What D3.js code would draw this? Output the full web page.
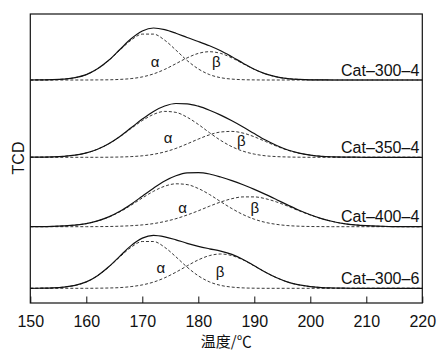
<!DOCTYPE html>
<html>
<head>
<meta charset="utf-8">
<script src="https://cdn.jsdelivr.net/npm/d3@7"></script>
<style>
    body { margin: 0; background: #fff; }
    svg { display: block; }
    text { font-family: "Liberation Sans", Arial, sans-serif; fill: #111; }
</style>
</head>
<body>
<div id="tpr"></div>
<script>
"use strict";

/***** data *****/

let temps = [150, 152, 154, 156, 158, 160, 162, 164, 166, 168, 170, 172, 174, 176, 178, 180, 182, 184,
             186, 188, 190, 192, 194, 196, 198, 200, 202, 204, 206, 208, 210, 212, 214, 216, 218, 220];

let samples = ["Cat–300–4", "Cat–350–4", "Cat–400–4", "Cat–300–6"];

// stacking offset of each trace (TCD signal units)
let offsets = [223, 145.7, 76.3, 14.7];

let total3004 = [0, 0.1, 0.3, 0.9, 2.3, 5.4, 11.2, 19.7, 30.5, 41.2, 49.0, 52.0, 50.4, 46.8, 42.5, 38.5, 34.2, 29.2,
                 23.2, 16.8, 10.7, 6.1, 3.1, 1.4, 0.6, 0.2, 0.1, 0, 0, 0, 0, 0, 0, 0, 0, 0];
let alpha3004 = [0, 0.1, 0.3, 0.9, 2.3, 5.4, 11.1, 19.5, 29.9, 39.8, 45.9, 45.9, 39.8, 29.9, 19.5, 11.1, 5.4, 2.3,
                 0.9, 0.3, 0.1, 0, 0, 0, 0, 0, 0, 0, 0, 0, 0, 0, 0, 0, 0, 0];
let beta3004 = [0, 0, 0, 0, 0, 0, 0.1, 0.2, 0.6, 1.4, 3.1, 6.1, 10.6, 16.3, 22.1, 26.6, 28.3, 26.6,
                22.1, 16.3, 10.6, 6.1, 3.1, 1.4, 0.6, 0.2, 0.1, 0, 0, 0, 0, 0, 0, 0, 0, 0];

let total3504 = [0.1, 0.2, 0.4, 1.0, 2.2, 4.4, 8.1, 13.6, 20.9, 29.5, 38.2, 45.9, 51.3, 53.8, 53.5, 51.1, 47.1, 42.2,
                 36.5, 30.3, 23.7, 17.3, 11.8, 7.3, 4.2, 2.2, 1.0, 0.5, 0.2, 0.1, 0, 0, 0, 0, 0, 0];
let alpha3504 = [0.1, 0.2, 0.4, 1.0, 2.2, 4.4, 8.1, 13.5, 20.6, 28.8, 36.7, 42.9, 45.9, 44.9, 40.1, 32.9, 24.6, 16.9,
                 10.6, 6.1, 3.2, 1.5, 0.7, 0.3, 0.1, 0, 0, 0, 0, 0, 0, 0, 0, 0, 0, 0];
let beta3504 = [0, 0, 0, 0, 0, 0, 0, 0.1, 0.3, 0.7, 1.5, 3.0, 5.4, 8.9, 13.4, 18.2, 22.5, 25.3,
                25.9, 24.2, 20.5, 15.8, 11.1, 7.0, 4.1, 2.2, 1.0, 0.5, 0.2, 0.1, 0, 0, 0, 0, 0, 0];

let total4004 = [0.1, 0.1, 0.3, 0.8, 1.6, 3.1, 5.8, 9.8, 15.4, 22.5, 30.5, 38.5, 45.7, 50.9, 53.8, 54.1, 52.7, 49.7,
                 46.1, 41.9, 37.3, 32.3, 27.0, 21.6, 16.4, 11.9, 8.1, 5.2, 3.1, 1.8, 1.0, 0.5, 0.2, 0.1, 0, 0];
let alpha4004 = [0.1, 0.1, 0.3, 0.8, 1.6, 3.1, 5.7, 9.6, 14.9, 21.5, 28.7, 35.4, 40.5, 42.9, 42.1, 38.2, 32.2, 25.0,
                 18.1, 12.1, 7.5, 4.3, 2.3, 1.1, 0.5, 0.2, 0.1, 0, 0, 0, 0, 0, 0, 0, 0, 0];
let beta4004 = [0, 0, 0, 0, 0, 0, 0.1, 0.2, 0.5, 1.0, 1.8, 3.1, 5.2, 8.0, 11.7, 15.9, 20.5, 24.7,
                28.0, 29.8, 29.8, 28.0, 24.7, 20.5, 15.9, 11.7, 8.0, 5.2, 3.1, 1.8, 1.0, 0.5, 0.2, 0.1, 0, 0];

let total3006 = [0, 0.1, 0.4, 1.2, 2.9, 6.4, 12.6, 21.5, 32.2, 42.7, 50.2, 53.0, 51.5, 48.5, 45.0, 42.0, 39.5, 37.2,
                 33.9, 28.8, 22.5, 16.1, 10.5, 6.2, 3.4, 1.7, 0.7, 0.3, 0.1, 0, 0, 0, 0, 0, 0, 0];
let alpha3006 = [0, 0.1, 0.4, 1.2, 2.9, 6.4, 12.5, 21.2, 31.5, 41.0, 46.8, 46.8, 41.0, 31.5, 21.2, 12.5, 6.4, 2.9,
                 1.2, 0.4, 0.1, 0, 0, 0, 0, 0, 0, 0, 0, 0, 0, 0, 0, 0, 0, 0];
let beta3006 = [0, 0, 0, 0, 0, 0, 0.1, 0.3, 0.7, 1.7, 3.4, 6.2, 10.5, 16.1, 22.4, 28.4, 32.7, 34.3,
                32.7, 28.4, 22.4, 16.1, 10.5, 6.2, 3.4, 1.7, 0.7, 0.3, 0.1, 0, 0, 0, 0, 0, 0, 0];

// where the α / β marks sit: [temperature, signal above the trace's baseline]
let alphaMarks = [[172.3, 18.3], [174.6, 20], [177.2, 19.4], [173.3, 20.6]];
let betaMarks = [[183.2, 18.3], [187.7, 16.6], [190.1, 19.4], [183.9, 16.6]];

let xTicks = [150, 160, 170, 180, 190, 200, 210, 220];


/***** processing data *****/

let traces = samples.map((name, i) => ({
    name: name,
    offset: offsets[i],
    total: [total3004, total3504, total4004, total3006][i],
    alpha: [alpha3004, alpha3504, alpha4004, alpha3006][i],
    beta: [beta3004, beta3504, beta4004, beta3006][i],
    alphaMark: alphaMarks[i],
    betaMark: betaMarks[i]
}));


/***** domain & range *****/

const width = 448,
    height = 359,
    margin = {top: 14, right: 25.7, bottom: 56, left: 30.3};

let x = d3.scaleLinear()
    .domain([150, 220])
    .range([margin.left, width - margin.right]);

let y = d3.scaleLinear()
    .domain([0, 289])
    .range([height - margin.bottom, margin.top]);


/***** plot data *****/

let svg = d3.select("#tpr")
    .append("svg")
    .attr("width", width)
    .attr("height", height);

let line = off => d3.line()
    .x((d, i) => x(temps[i]))
    .y(d => y(d + off))
    .curve(d3.curveMonotoneX);

let g = svg.selectAll("g.trace")
    .data(traces)
    .enter()
    .append("g")
    .attr("class", "trace");

g.append("path")
    .attr("d", d => line(d.offset)(d.alpha))
    .attr("fill", "none")
    .attr("stroke", "#222")
    .attr("stroke-width", 0.9)
    .attr("stroke-dasharray", "3,2");

g.append("path")
    .attr("d", d => line(d.offset)(d.beta))
    .attr("fill", "none")
    .attr("stroke", "#222")
    .attr("stroke-width", 0.9)
    .attr("stroke-dasharray", "3,2");

g.append("path")
    .attr("d", d => line(d.offset)(d.total))
    .attr("fill", "none")
    .attr("stroke", "#111")
    .attr("stroke-width", 1.2);

g.append("text")
    .text("α")
    .attr("x", d => x(d.alphaMark[0]))
    .attr("y", d => y(d.offset + d.alphaMark[1]))
    .attr("dy", "0.35em")
    .attr("text-anchor", "middle")
    .style("font-size", "15px");

g.append("text")
    .text("β")
    .attr("x", d => x(d.betaMark[0]))
    .attr("y", d => y(d.offset + d.betaMark[1]))
    .attr("dy", "0.35em")
    .attr("text-anchor", "middle")
    .style("font-size", "15px");

g.append("text")
    .text(d => d.name)
    .attr("x", x(220) - 3)
    .attr("y", d => y(d.offset + 4.5))
    .attr("text-anchor", "end")
    .style("font-size", "16px");


/***** axes *****/

let xAxis = svg.append("g")
    .attr("transform", `translate(0, ${height - margin.bottom})`)
    .call(d3.axisBottom(x).tickValues(xTicks).tickSize(-6.5).tickPadding(13).tickSizeOuter(0));

xAxis.select(".domain").remove();
xAxis.selectAll("line").attr("stroke", "#111").attr("stroke-width", 1);
xAxis.selectAll("text")
    .attr("fill", "#111")
    .style("font-family", "\"Liberation Sans\", Arial, sans-serif")
    .style("font-size", "16px");

svg.append("rect")
    .attr("x", x(150))
    .attr("y", margin.top)
    .attr("width", x(220) - x(150))
    .attr("height", y(0) - margin.top)
    .attr("fill", "none")
    .attr("stroke", "#111")
    .attr("stroke-width", 1.2);

svg.append("text")
    .text("温度/℃")
    .attr("x", (x(150) + x(220)) / 2)
    .attr("y", 347)
    .attr("text-anchor", "middle")
    .style("font-family", "\"Noto Sans CJK SC\", sans-serif")
    .style("font-size", "15px");

svg.append("text")
    .text("TCD")
    .attr("transform", "translate(18.3, 158) rotate(-90)")
    .attr("dy", "0.35em")
    .attr("text-anchor", "middle")
    .style("font-size", "16px");
</script>
</body>
</html>
